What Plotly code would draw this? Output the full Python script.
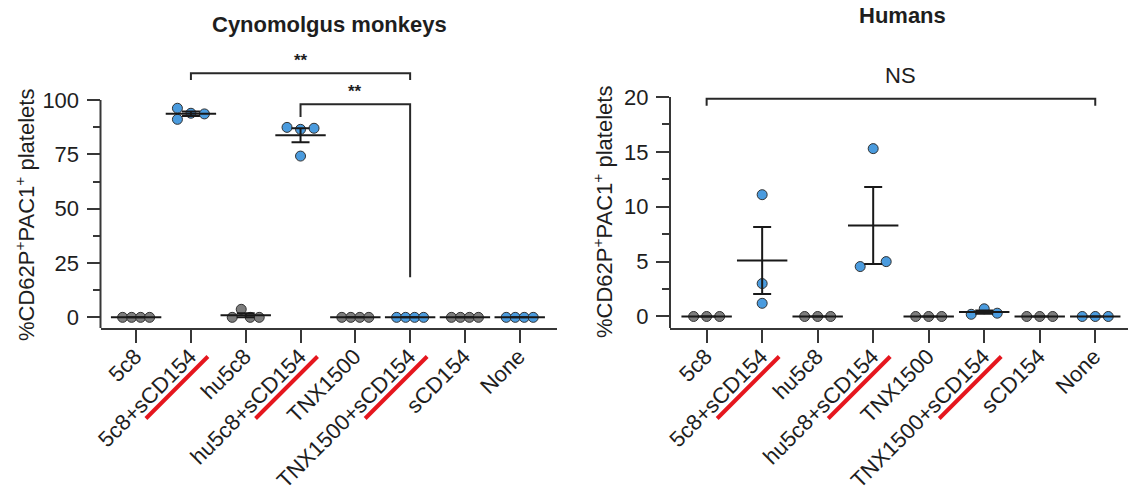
import numpy as np
import plotly.graph_objects as go

W, H = 1128, 495

# ---------------- data ----------------
categories = ["5c8", "5c8+sCD154", "hu5c8", "hu5c8+sCD154",
              "TNX1500", "TNX1500+sCD154", "sCD154", "None"]
underlined = ["5c8+sCD154", "hu5c8+sCD154", "TNX1500+sCD154"]

# Cynomolgus monkeys (n = 4 per group)
mk_5c8 = [0, 0, 0, 0]
mk_5c8_scd154 = [96.2, 91.1, 93.9, 93.6]
mk_hu5c8 = [0, 3.7, 0, 0]
mk_hu5c8_scd154 = [87.4, 86.5, 87.0, 74.2]
mk_tnx1500 = [0, 0, 0, 0]
mk_tnx1500_scd154 = [0, 0, 0, 0]
mk_scd154 = [0, 0, 0, 0]
mk_none = [0, 0, 0, 0]

# Humans (n = 3 per group)
hs_5c8 = [0, 0, 0]
hs_5c8_scd154 = [11.1, 3.0, 1.2]
hs_hu5c8 = [0, 0, 0]
hs_hu5c8_scd154 = [15.3, 4.55, 5.0]
hs_tnx1500 = [0, 0, 0]
hs_tnx1500_scd154 = [0.2, 0.7, 0.3]
hs_scd154 = [0, 0, 0]
hs_none = [0, 0, 0]

monkey_groups = [mk_5c8, mk_5c8_scd154, mk_hu5c8, mk_hu5c8_scd154,
                 mk_tnx1500, mk_tnx1500_scd154, mk_scd154, mk_none]
human_groups = [hs_5c8, hs_5c8_scd154, hs_hu5c8, hs_hu5c8_scd154,
                hs_tnx1500, hs_tnx1500_scd154, hs_scd154, hs_none]

monkey_yticks = [0, 25, 50, 75, 100]
human_yticks = [0, 5, 10, 15, 20]

# ---------------- styling / layout ----------------
BLUE = "rgb(74,155,222)"
GRAY = "rgb(125,125,125)"
EDGE = "rgb(50,50,50)"
AXIS = "rgb(55,55,55)"
TEXT = "rgb(30,30,30)"
RED = "rgb(229,22,30)"
FONT = "Liberation Sans, Arial, sans-serif"
group_colors = [GRAY, BLUE, GRAY, BLUE, GRAY, BLUE, GRAY, BLUE]

# horizontal swarm offsets of the points, in pixels
mk_offsets = [[-13.5, -4.5, 4.5, 13.5], [-13.5, -13.5, 0, 13.5],
              [-13.5, -4.5, 4.5, 13.5], [-13.5, 0, 13.5, 0]] + \
             [[-13.5, -4.5, 4.5, 13.5]] * 4
hs_offsets = [[-13, 0, 13], [0, 0, 0], [-13, 0, 13], [0, -13, 13]] + \
             [[-13, 0, 13]] * 4

panels = [
    dict(xa="x", ya="y", groups=monkey_groups, offsets=mk_offsets,
         xdom_px=(100.5, 557), xrange=(-0.65, 7.68),
         yrange=(-4.9, 127.6), ytop=100, yticks=monkey_yticks,
         yminor=[12.5, 37.5, 62.5, 87.5]),
    dict(xa="x2", ya="y2", groups=human_groups, offsets=hs_offsets,
         xdom_px=(670, 1128), xrange=(-0.66, 7.59),
         yrange=(-1.05, 25.2), ytop=20, yticks=human_yticks,
         yminor=[2.5, 7.5, 12.5, 17.5]),
]
ydom_px = (328, 40)  # bottom, top (pixels from top)
ydom = [1 - ydom_px[0] / H, 1 - ydom_px[1] / H]


def px_per_cat(p):
    return (p["xdom_px"][1] - p["xdom_px"][0]) / (p["xrange"][1] - p["xrange"][0])


def cat_to_px(p, i):
    return p["xdom_px"][0] + (i - p["xrange"][0]) * px_per_cat(p)


fig = go.Figure()
shapes = []
annotations = []

for p in panels:
    scale = px_per_cat(p)
    # individual points
    for gi, vals in enumerate(p["groups"]):
        xs = [gi + o / scale for o in p["offsets"][gi]]
        fig.add_trace(go.Scatter(
            x=xs, y=vals, mode="markers", xaxis=p["xa"], yaxis=p["ya"],
            marker=dict(size=10, color=group_colors[gi],
                        line=dict(color=EDGE, width=1)),
            showlegend=False, hoverinfo="y", cliponaxis=False))
    # mean +/- SEM
    means = [float(np.mean(v)) for v in p["groups"]]
    sems = [float(np.std(v, ddof=1) / np.sqrt(len(v))) for v in p["groups"]]
    fig.add_trace(go.Scatter(
        x=list(range(len(categories))), y=means, mode="markers",
        xaxis=p["xa"], yaxis=p["ya"],
        marker=dict(symbol="line-ew", size=36,
                    line=dict(color="rgb(25,25,25)", width=2)),
        error_y=dict(type="data", array=sems, visible=True,
                     color="rgb(25,25,25)", thickness=2, width=9),
        showlegend=False, hoverinfo="y", cliponaxis=False))
    # y-axis spine that stops at the top tick
    shapes.append(dict(type="line", xref=p["xa"] + " domain", yref=p["ya"],
                       x0=0, x1=0, y0=p["yrange"][0], y1=p["ytop"],
                       line=dict(color=AXIS, width=2)))
    # red underline below "sCD154" in tick labels
    for name in underlined:
        tx = cat_to_px(p, categories.index(name))
        shapes.append(dict(type="line", xref="paper", yref="paper",
                           x0=(tx - 45) / W, y0=1 - 418.5 / H,
                           x1=(tx + 17) / W, y1=1 - 356.5 / H,
                           line=dict(color=RED, width=4)))

axis_common = dict(showgrid=False, zeroline=False, automargin=False)
layout = dict(
    width=W, height=H, margin=dict(l=0, r=0, t=0, b=0, autoexpand=False),
    paper_bgcolor="white", plot_bgcolor="white",
    font=dict(family=FONT, size=22, color=TEXT),
)
for k, p in enumerate(panels):
    sfx = "" if k == 0 else "2"
    layout["xaxis" + sfx] = dict(
        **axis_common, domain=[p["xdom_px"][0] / W, p["xdom_px"][1] / W],
        range=list(p["xrange"]), anchor="y" + sfx,
        tickmode="array", tickvals=list(range(len(categories))),
        ticktext=categories, tickangle=-45,
        ticks="outside", ticklen=13, tickwidth=2, tickcolor=AXIS,
        showline=True, linewidth=2, linecolor=AXIS,
        ticklabelshift=-1, ticklabelstandoff=-8,
        tickfont=dict(size=22, family=FONT, color=TEXT))
    layout["yaxis" + sfx] = dict(
        **axis_common, domain=ydom, range=list(p["yrange"]),
        anchor="x" + sfx, tickmode="array", tickvals=p["yticks"],
        ticks="outside", ticklen=13, tickwidth=2, tickcolor=AXIS,
        showline=False, ticklabelstandoff=3,
        minor=dict(tickmode="array", tickvals=p["yminor"], ticks="outside",
                   ticklen=7, tickwidth=2, tickcolor=AXIS),
        tickfont=dict(size=22, family=FONT, color=TEXT))

# significance brackets (monkeys)
bk = "rgb(40,40,40)"
for (xa, xb, yh, ya_end, yb_end) in [(1, 5, 112.3, 109.2, 109.2),
                                     (3, 5, 98.0, 92.2, 18.5)]:
    shapes.append(dict(type="path", xref="x", yref="y",
                       path=f"M {xa},{ya_end} L {xa},{yh} L {xb},{yh} L {xb},{yb_end}",
                       line=dict(color=bk, width=2)))
annotations.append(dict(x=3, y=118.0, xref="x", yref="y", text="<b>**</b>",
                        showarrow=False, font=dict(size=17, color=TEXT)))
annotations.append(dict(x=4, y=103.8, xref="x", yref="y", text="<b>**</b>",
                        showarrow=False, font=dict(size=17, color=TEXT)))
# NS bracket (humans)
shapes.append(dict(type="path", xref="x2", yref="y2",
                   path="M 0,19.2 L 0,19.85 L 7,19.85 L 7,19.2",
                   line=dict(color=bk, width=2)))
annotations.append(dict(x=3.5, y=22.0, xref="x2", yref="y2", text="NS",
                        showarrow=False, font=dict(size=22, color=TEXT)))

# panel titles
annotations.append(dict(x=329 / W, y=1 - 25 / H, xref="paper", yref="paper",
                        xanchor="center", yanchor="middle",
                        text="<b>Cynomolgus monkeys</b>", showarrow=False,
                        font=dict(size=22, color=TEXT)))
annotations.append(dict(x=902 / W, y=1 - 16 / H, xref="paper", yref="paper",
                        xanchor="center", yanchor="middle",
                        text="<b>Humans</b>", showarrow=False,
                        font=dict(size=22, color=TEXT)))

# y-axis titles
ytitle = "%CD62P<sup>+</sup>PAC1<sup>+</sup> platelets"
for xc, yc in [(25, 215), (603, 212)]:
    annotations.append(dict(x=xc / W, y=1 - yc / H, xref="paper", yref="paper",
                            xanchor="center", yanchor="middle",
                            text=ytitle, textangle=-90, showarrow=False,
                            font=dict(size=22, color=TEXT)))

layout["shapes"] = shapes
layout["annotations"] = annotations
fig.update_layout(**layout)
fig.write_html("out.html")
